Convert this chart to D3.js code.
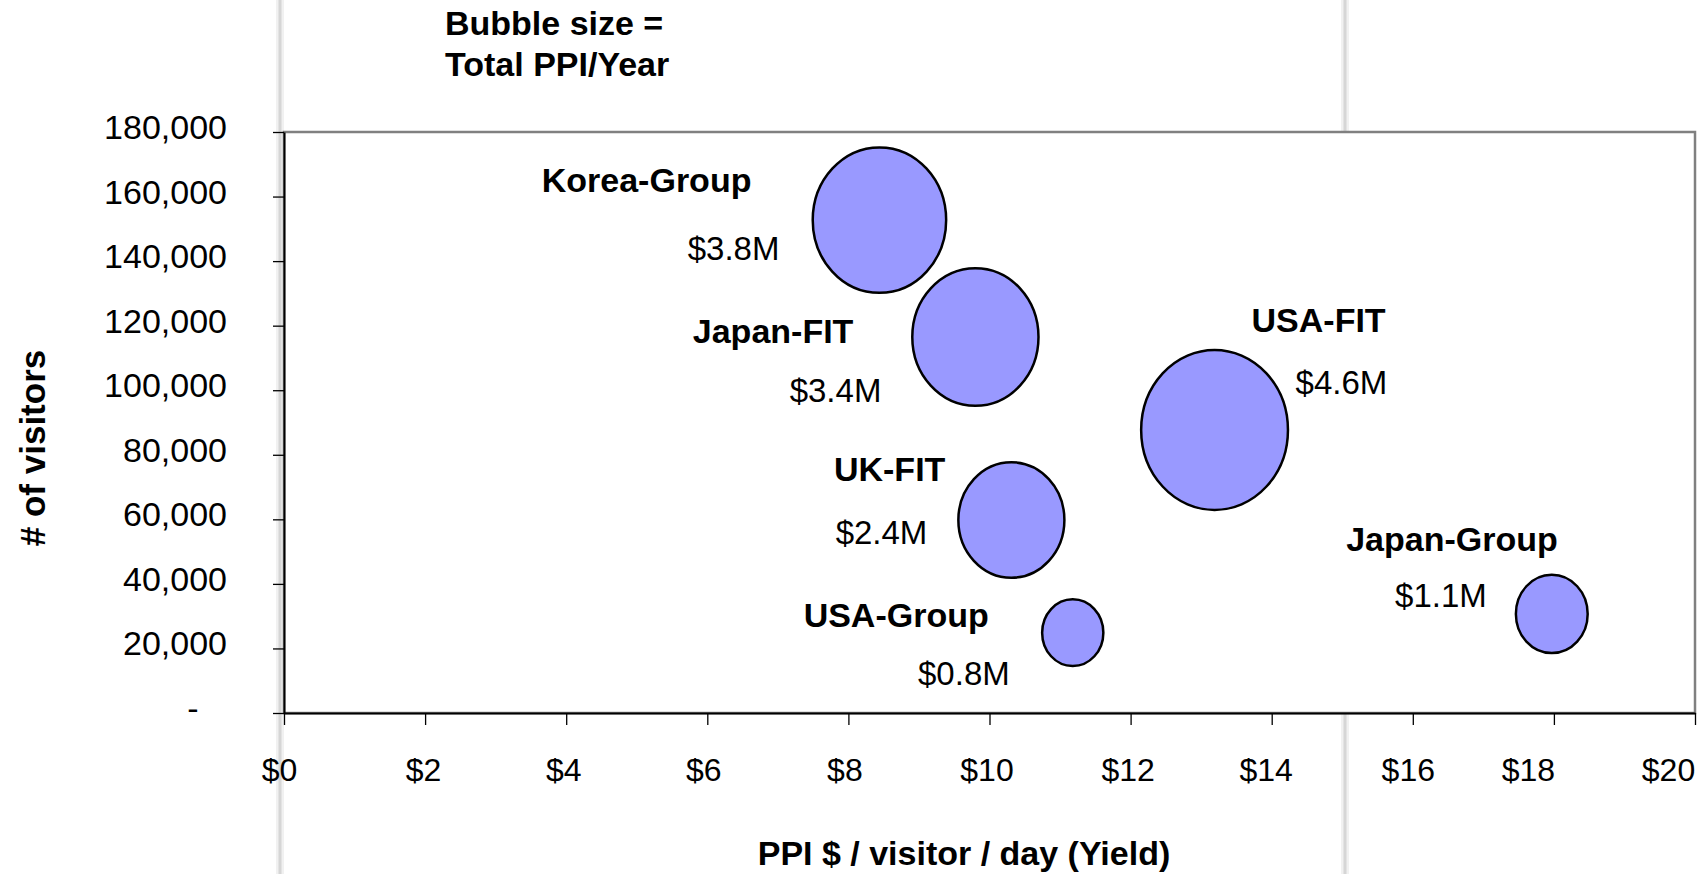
<!DOCTYPE html>
<html>
<head>
<meta charset="utf-8">
<script src="https://cdn.jsdelivr.net/npm/d3@7/dist/d3.min.js"></script>
<style>
  body { margin: 0; background: #fff; }
  text { font-family: "Liberation Sans", Arial, sans-serif; fill: #000; }
</style>
</head>
<body>
<svg id="chart" width="1707" height="874"></svg>
<script>
/* data */
var names       = ["Korea-Group", "Japan-FIT", "USA-FIT", "UK-FIT", "USA-Group", "Japan-Group"];
var yieldPerDay = [8.44, 9.80, 13.19, 10.31, 11.18, 17.97];       // PPI $ / visitor / day
var visitors    = [152700, 116500, 87700, 59800, 24900, 30700];   // # of visitors
var ppiPerYear  = [3.8, 3.4, 4.6, 2.4, 0.8, 1.1];                 // $M, bubble size
var xTicks = [0, 2, 4, 6, 8, 10, 12, 14, 16, 18, 20];
var yTicks = [0, 20000, 40000, 60000, 80000, 100000, 120000, 140000, 160000, 180000];

/* label placement (px from bubble centre) - hand placed on the original slide */
var nameOff  = [[-128, -28, "end"], [-122, 6, "end"], [37, -98, "start"], [-66, -39, "end"], [-84, -6, "end"], [6, -63, "end"]];
var valueOff = [[-100, 40, "end"], [-94, 65, "end"], [81, -36, "start"], [-84, 24, "end"], [-63, 52, "end"], [-65, -7, "end"]];
/* excel squeezes the last x labels leftwards */
var xTickNudge = [-5, -2, -3, -4, -4, -3, -3, -6, -5, -26, -27];

var W = 1707, H = 874,
    plotL = 284, plotR = 1695, plotT = 132, plotB = 713;

var svg = d3.select("#chart");

var x = d3.scaleLinear().domain([0, 20]).range([plotL, plotR]);
var y = d3.scaleLinear().domain([0, 180000]).range([plotB, plotT]);
var rx = d3.scaleSqrt().domain([0, 4.6]).range([0, 73.4]);

var data = names.map(function(n, i) {
  return { name: n, x: yieldPerDay[i], y: visitors[i], v: ppiPerYear[i], no: nameOff[i], vo: valueOff[i] };
});

/* faint slide guide lines behind the chart */
[280, 1345].forEach(function(lx) {
  svg.append("line").attr("x1", lx).attr("x2", lx).attr("y1", 0).attr("y2", H)
    .attr("stroke", "#f1f1f1").attr("stroke-width", 8);
  svg.append("line").attr("x1", lx).attr("x2", lx).attr("y1", 0).attr("y2", H)
    .attr("stroke", "#d6d6d6").attr("stroke-width", 3);
});

/* plot area */
svg.append("rect")
  .attr("x", plotL).attr("y", plotT)
  .attr("width", plotR - plotL).attr("height", plotB - plotT)
  .attr("fill", "#fff").attr("stroke", "#808080").attr("stroke-width", 2.5);

/* axes */
var yAxis = d3.axisLeft(y).tickValues(yTicks).tickSize(11).tickSizeOuter(0).tickPadding(46)
  .tickFormat(function(d) { return d === 0 ? "-   " : d3.format(",")(d); });
var gy = svg.append("g").attr("transform", "translate(" + plotL + ",0)").call(yAxis);
gy.selectAll("text").attr("dy", "0.19em").style("font-size", "34px").style("white-space", "pre");

var xAxis = d3.axisBottom(x).tickValues(xTicks).tickSize(12).tickSizeOuter(0).tickPadding(33)
  .tickFormat(function(d) { return "$" + d; });
var gx = svg.append("g").attr("transform", "translate(0," + plotB + ")").call(xAxis);
gx.selectAll("text").style("font-size", "32px")
  .attr("dx", function(d, i) { return xTickNudge[i]; });

[gx, gy].forEach(function(g) {
  g.select(".domain").attr("stroke", "#000").attr("stroke-width", 2);
  g.selectAll(".tick line").attr("stroke", "#000").attr("stroke-width", 1.3);
  g.selectAll("text").attr("fill", "#000").attr("font-family", null);
});

/* bubbles */
svg.append("g").selectAll("ellipse")
  .data(data)
  .join("ellipse")
    .attr("cx", function(d) { return x(d.x); })
    .attr("cy", function(d) { return y(d.y); })
    .attr("rx", function(d) { return rx(d.v); })
    .attr("ry", function(d) { return rx(d.v) * 1.09; })
    .attr("fill", "#9999ff")
    .attr("stroke", "#000")
    .attr("stroke-width", 2.5);

/* labels */
var lab = svg.append("g");
lab.selectAll("text.name")
  .data(data)
  .join("text").attr("class", "name")
    .attr("x", function(d) { return x(d.x) + d.no[0]; })
    .attr("y", function(d) { return y(d.y) + d.no[1]; })
    .attr("text-anchor", function(d) { return d.no[2]; })
    .style("font-size", "34px").style("font-weight", "bold")
    .text(function(d) { return d.name; });
lab.selectAll("text.val")
  .data(data)
  .join("text").attr("class", "val")
    .attr("x", function(d) { return x(d.x) + d.vo[0]; })
    .attr("y", function(d) { return y(d.y) + d.vo[1]; })
    .attr("text-anchor", function(d) { return d.vo[2]; })
    .style("font-size", "33px")
    .text(function(d) { return "$" + d.v.toFixed(1) + "M"; });

/* titles */
svg.append("text")
  .attr("transform", "translate(45,448)rotate(-90)")
  .attr("text-anchor", "middle")
  .style("font-size", "35px").style("font-weight", "bold")
  .text("# of visitors");

svg.append("text")
  .attr("x", 964).attr("y", 865)
  .attr("text-anchor", "middle")
  .style("font-size", "34px").style("font-weight", "bold")
  .text("PPI $ / visitor / day (Yield)");

var note = svg.append("text").style("font-size", "34px").style("font-weight", "bold");
note.append("tspan").attr("x", 445).attr("y", 35).text("Bubble size =");
note.append("tspan").attr("x", 445).attr("y", 76).text("Total PPI/Year");
</script>
</body>
</html>
